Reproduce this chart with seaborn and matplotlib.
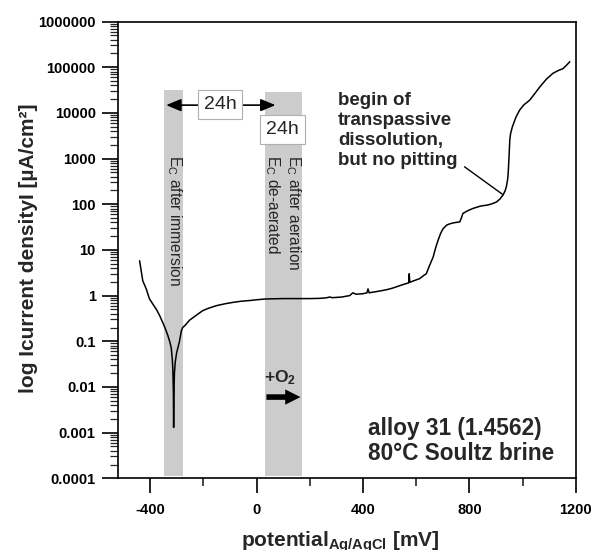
import numpy as np
import pandas as pd
import matplotlib
matplotlib.use('Agg')
import matplotlib.pyplot as plt
from matplotlib.ticker import FixedLocator, LogLocator, NullFormatter
import seaborn as sns

# ---- data ----
potential_mV = [-440, -428, -415, -403, -390, -377, -365, -352, -342, -334, -326, -321,
                -317, -315, -313, -312, -311, -309, -306, -301, -296, -290, -283, -278,
                -270, -252, -230, -214, -202, -180, -152, -120, -89, -60, -26, 0, 30, 60,
                100, 130, 170, 200, 237, 260, 275, 285, 320, 350, 362, 374, 400, 415, 419,
                423, 460, 490, 510, 525, 545, 565, 572, 574, 576, 590, 613, 630, 638, 650,
                664, 673, 682, 692, 701, 715, 725, 739, 750, 764, 770, 776, 790, 800, 814,
                825, 839, 850, 864, 880, 890, 902, 915, 927, 935, 939, 944, 946, 949, 952,
                955, 962, 975, 989, 1005, 1027, 1045, 1065, 1090, 1115, 1135, 1152, 1165, 1178]
current_density = [5.8, 2.1, 1.4, 0.85, 0.65, 0.5, 0.37, 0.25, 0.18, 0.135, 0.095, 0.072,
                   0.04, 0.025, 0.008, 0.0013, 0.006, 0.02, 0.035, 0.055, 0.072, 0.1, 0.17, 0.2,
                   0.22, 0.29, 0.36, 0.42, 0.47, 0.53, 0.6, 0.66, 0.71, 0.75, 0.78, 0.81, 0.84, 0.85,
                   0.86, 0.86, 0.86, 0.86, 0.87, 0.89, 0.93, 0.9, 0.93, 1.0, 1.15, 1.07, 1.1, 1.15, 1.4,
                   1.15, 1.25, 1.35, 1.45, 1.55, 1.7, 1.85, 1.9, 3.0, 1.95, 2.1, 2.35, 2.8, 3.0, 4.5,
                   7.0, 11, 16, 23, 29, 35, 37, 39, 40, 41, 50, 63, 70, 75, 81,
                   85, 90, 93, 95, 100, 105, 112, 130, 160, 200, 240, 350, 470, 1000, 2500,
                   3500, 5000, 8000, 11500, 15000, 19000, 26000, 37000, 55000, 74000, 85000, 93000, 110000, 132000]

y_ticks = [1e-4, 1e-3, 1e-2, 1e-1, 1, 10, 100, 1000, 10000, 100000, 1000000]
y_ticklabels = ['0.0001', '0.001', '0.01', '0.1', '1', '10', '100', '1000', '10000', '100000', '1000000']
x_ticks = [-400, 0, 400, 800, 1200]
x_ticklabels = ['-400', '0', '400', '800', '1200']
x_minor = [-200, 200, 600, 1000]

band_immersion = [-350, -275]
band_aeration = [30, 170]

df = pd.DataFrame({'potential': potential_mV, 'current': current_density})

sns.set_style('ticks')
plt.rcParams['font.family'] = ['Liberation Sans', 'DejaVu Sans']
plt.rcParams['mathtext.fontset'] = 'custom'
plt.rcParams['mathtext.rm'] = 'Liberation Sans'
plt.rcParams['mathtext.bf'] = 'Liberation Sans:bold'
plt.rcParams['mathtext.it'] = 'Liberation Sans:italic'

fig = plt.figure(figsize=(5.94, 5.5), dpi=100)
ax = fig.add_axes([0.1992, 0.1304, 0.7700, 0.8304])

band_color = '#cccccc'
ax.axvspan(band_immersion[0], band_immersion[1], ymin=0.005, ymax=0.851, color=band_color, lw=0, zorder=0)
ax.axvspan(band_aeration[0], band_aeration[1], ymin=0.005, ymax=0.846, color=band_color, lw=0, zorder=0)

sns.lineplot(data=df, x='potential', y='current', sort=False, estimator=None,
             color='black', lw=1.1, ax=ax, zorder=3)

ax.set_yscale('log')
ax.set_ylim(1e-4, 1e6)
ax.set_xlim(-520, 1200)
ax.yaxis.set_major_locator(FixedLocator(y_ticks))
ax.set_yticklabels(y_ticklabels)
ax.yaxis.set_minor_locator(LogLocator(base=10, subs=np.arange(2, 10), numticks=100))
ax.yaxis.set_minor_formatter(NullFormatter())
ax.set_xticks(x_ticks)
ax.set_xticklabels(x_ticklabels)
ax.xaxis.set_minor_locator(FixedLocator(x_minor))

for s in ax.spines.values():
    s.set_linewidth(1.2)
    s.set_color('black')
    s.set_visible(True)

ax.tick_params(axis='y', which='major', direction='out', length=11.3, width=1.2, pad=5, labelsize=10.5, colors='black')
ax.tick_params(axis='y', which='minor', direction='out', length=6, width=0.9)
ax.tick_params(axis='x', which='major', direction='out', length=10.8, width=1.2, pad=7, labelsize=10.5, colors='black')
ax.tick_params(axis='x', which='minor', direction='out', length=5.5, width=1.2)
for lbl in ax.get_xticklabels() + ax.get_yticklabels():
    lbl.set_fontweight('bold')

ax.set_xlabel(r'potential$_\mathbf{Ag/AgCl}$ [mV]', fontsize=15, fontweight='bold')
ax.set_ylabel('log Icurrent densityI [µA/cm²]', fontsize=15, fontweight='bold')
ax.xaxis.set_label_coords(0.485, -0.113)
ax.yaxis.set_label_coords(-0.176, 0.503)

# band texts
ax.text(-308, 1200, r'E$_\mathrm{C}$ after immersion', rotation=-90, ha='center', va='top',
        fontsize=11.2, zorder=4)
ax.text(98, 1200, 'E$_\\mathrm{C}$ after aeration\nE$_\\mathrm{C}$ de-aerated', rotation=-90,
        ha='center', va='top', multialignment='left', fontsize=11.2, zorder=4)

# 24h arrow
ax.annotate('', xy=(-340, 14800), xytext=(71, 14800),
            arrowprops=dict(arrowstyle='<|-|>,head_length=0.6,head_width=0.25', color='black',
                            lw=1.2, shrinkA=0, shrinkB=0, mutation_scale=15), zorder=4)
box = dict(boxstyle='square,pad=0.3', facecolor='white', edgecolor='#b0b0b0', lw=0.8)
ax.text(-137, 15100, '24h', ha='center', va='center', fontsize=14, bbox=box, zorder=5)
ax.text(98, 4400, '24h', ha='center', va='center', fontsize=14, bbox=box, zorder=5)

# +O2 arrow
ax.text(90, 0.0162, r'+O$_\mathbf{2}$', ha='center', va='center', fontsize=12.6, fontweight='bold', zorder=5)
ax.annotate('', xy=(165, 0.006), xytext=(37, 0.006),
            arrowprops=dict(arrowstyle='simple,head_length=0.55,head_width=0.55,tail_width=0.2',
                            fc='black', ec='none', lw=0, shrinkA=0, shrinkB=0, mutation_scale=20), zorder=5)

# transpassive annotation
ax.text(306, 10**3.62, 'begin of\ntranspassive\ndissolution,\nbut no pitting', ha='left', va='center',
        fontsize=13.5, fontweight='bold', linespacing=1.24, zorder=5)
ax.plot([782, 924], [10**2.82, 10**2.22], color='black', lw=1.0, zorder=4)

# alloy text
ax.text(418, 10**-3.18, 'alloy 31 (1.4562)\n80°C Soultz brine', ha='left', va='center',
        fontsize=16.3, fontweight='bold', linespacing=1.1, zorder=5)

fig.savefig('out.png', dpi=100)
